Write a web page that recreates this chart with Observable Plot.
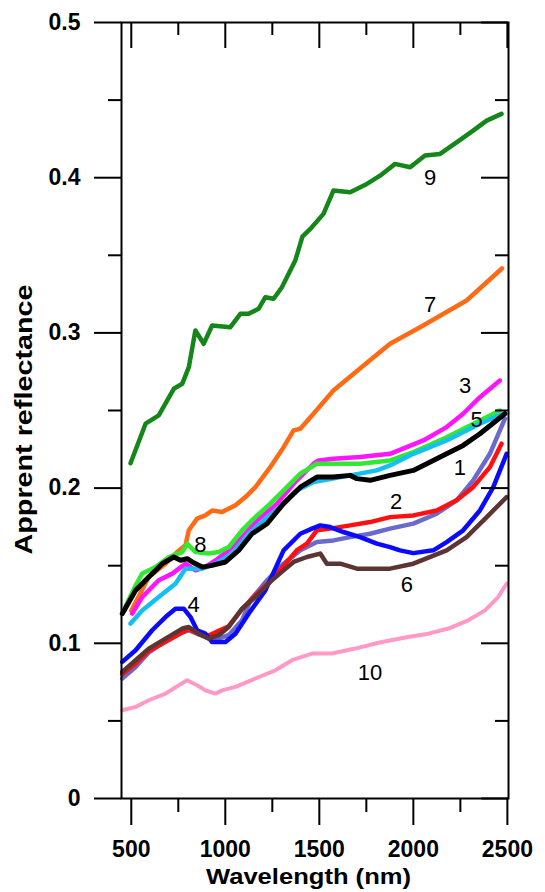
<!DOCTYPE html>
<html><head><meta charset="utf-8">
<script src="https://cdn.jsdelivr.net/npm/d3@7"></script>
<script src="https://cdn.jsdelivr.net/npm/@observablehq/plot@0.6"></script>
<style>body{margin:0;background:#fff}</style>
</head><body><div id="chart"></div>
<script>
// ---- data (wavelength nm, apparent reflectance) ----
const s9_nm = [496, 576, 646, 726, 771, 806, 841, 885, 930, 1027, 1080, 1124, 1177, 1213, 1257, 1301, 1372, 1410, 1452, 1522, 1575, 1664, 1753, 1823, 1903, 1983, 2062, 2142, 2230, 2318, 2390, 2469];
const s9_r  = [0.216, 0.2415, 0.2468, 0.264, 0.2672, 0.2779, 0.3016, 0.293, 0.3048, 0.3037, 0.3123, 0.3123, 0.3155, 0.323, 0.322, 0.3294, 0.3466, 0.362, 0.367, 0.3767, 0.3917, 0.3906, 0.396, 0.4013, 0.4089, 0.4067, 0.4143, 0.4153, 0.4228, 0.4303, 0.4368, 0.4411];

const s7_nm = [500, 593, 682, 744, 788, 806, 850, 894, 930, 983, 1054, 1107, 1160, 1239, 1310, 1363, 1399, 1469, 1575, 1700, 1876, 2036, 2283, 2471];
const s7_r  = [0.121, 0.1427, 0.1513, 0.1588, 0.1631, 0.1728, 0.1803, 0.1824, 0.1856, 0.1846, 0.1889, 0.1942, 0.2006, 0.2135, 0.2264, 0.2372, 0.2382, 0.2479, 0.2629, 0.2755, 0.293, 0.3037, 0.3209, 0.3415];

const s3_nm = [505, 558, 646, 718, 788, 841, 894, 947, 1018, 1089, 1169, 1275, 1363, 1469, 1496, 1575, 1717, 1876, 2053, 2177, 2265, 2354, 2460];
const s3_r  = [0.1191, 0.1298, 0.1406, 0.1449, 0.1513, 0.147, 0.1491, 0.1534, 0.1599, 0.1684, 0.1792, 0.19, 0.2028, 0.2157, 0.2178, 0.2189, 0.22, 0.2221, 0.2307, 0.2393, 0.2479, 0.2586, 0.2693];

const s8_nm = [470, 520, 558, 629, 700, 771, 797, 841, 912, 965, 1018, 1089, 1151, 1239, 1310, 1399, 1487, 1575, 1717, 1876, 2000, 2177, 2354, 2460];
const s8_r  = [0.124, 0.1365, 0.145, 0.1491, 0.1556, 0.1588, 0.1642, 0.1588, 0.1578, 0.1588, 0.162, 0.1728, 0.1803, 0.19, 0.1985, 0.2093, 0.2157, 0.2157, 0.2157, 0.2178, 0.2232, 0.2328, 0.2436, 0.25];

const s5_nm = [496, 558, 646, 735, 788, 877, 947, 1036, 1124, 1204, 1310, 1381, 1469, 1522, 1664, 1806, 1876, 2000, 2177, 2354, 2478];
const s5_r  = [0.1127, 0.1212, 0.1298, 0.1384, 0.1481, 0.1481, 0.1513, 0.1578, 0.1706, 0.1792, 0.19, 0.1985, 0.2039, 0.205, 0.2082, 0.2114, 0.2146, 0.2221, 0.2307, 0.2415, 0.2479];

const s1_nm = [452, 523, 593, 665, 726, 762, 797, 824, 877, 930, 1001, 1071, 1142, 1222, 1310, 1399, 1487, 1575, 1664, 1700, 1770, 1876, 2000, 2177, 2265, 2354, 2487];
const s1_r  = [0.1191, 0.1341, 0.1427, 0.1513, 0.1556, 0.1535, 0.1545, 0.1524, 0.1491, 0.1502, 0.1524, 0.1599, 0.1706, 0.1771, 0.19, 0.2006, 0.2071, 0.2071, 0.2082, 0.2061, 0.205, 0.2082, 0.2114, 0.2222, 0.2275, 0.235, 0.2479];

const s2_nm = [452, 523, 593, 682, 771, 806, 859, 912, 965, 1018, 1089, 1160, 1248, 1310, 1381, 1434, 1487, 1558, 1664, 1770, 1876, 2000, 2124, 2230, 2318, 2407, 2469];
const s2_r  = [0.080, 0.087, 0.095, 0.101, 0.107, 0.109, 0.106, 0.105, 0.108, 0.111, 0.122, 0.131, 0.141, 0.150, 0.160, 0.1642, 0.1728, 0.1739, 0.176, 0.1781, 0.1813, 0.1824, 0.1856, 0.1921, 0.2006, 0.2135, 0.2286];

const sP_nm = [452, 523, 593, 682, 771, 806, 859, 894, 965, 1018, 1089, 1133, 1222, 1310, 1399, 1487, 1575, 1664, 1770, 1876, 2000, 2124, 2230, 2318, 2407, 2487];
const sP_r  = [0.0773, 0.0847, 0.0942, 0.1013, 0.1071, 0.1084, 0.1058, 0.1041, 0.1032, 0.1052, 0.1148, 0.1277, 0.1406, 0.1513, 0.1599, 0.1652, 0.1663, 0.1684, 0.1706, 0.1739, 0.1771, 0.1835, 0.1921, 0.205, 0.2221, 0.2447];

const s4_nm = [452, 523, 611, 682, 735, 779, 815, 850, 894, 930, 1001, 1054, 1124, 1213, 1310, 1399, 1461, 1505, 1558, 1628, 1717, 1806, 1876, 1929, 2000, 2106, 2177, 2265, 2354, 2425, 2496];
const s4_r  = [0.088, 0.0955, 0.1084, 0.1169, 0.1223, 0.1223, 0.1169, 0.1084, 0.1062, 0.1008, 0.1008, 0.1062, 0.1191, 0.1341, 0.1599, 0.1706, 0.1739, 0.176, 0.1749, 0.1717, 0.1684, 0.1642, 0.162, 0.1599, 0.1581, 0.1599, 0.1652, 0.1728, 0.1856, 0.2006, 0.2221];

const s6_nm = [452, 523, 593, 682, 771, 806, 859, 912, 965, 1018, 1089, 1160, 1248, 1310, 1363, 1434, 1505, 1540, 1611, 1700, 1876, 2000, 2177, 2283, 2390, 2496];
const s6_r  = [0.0815, 0.0891, 0.0966, 0.103, 0.1095, 0.1105, 0.1062, 0.103, 0.1052, 0.1105, 0.1223, 0.1298, 0.1406, 0.147, 0.1524, 0.1556, 0.1578, 0.1513, 0.1513, 0.1481, 0.1481, 0.1513, 0.1599, 0.1684, 0.1813, 0.1942];

const s10_nm = [452, 523, 593, 682, 753, 797, 850, 894, 947, 983, 1054, 1160, 1266, 1355, 1461, 1567, 1690, 1832, 1973, 2080, 2186, 2292, 2381, 2451, 2496];
const s10_r  = [0.0569, 0.059, 0.0633, 0.0676, 0.073, 0.0762, 0.073, 0.0697, 0.0676, 0.0697, 0.0719, 0.0773, 0.0826, 0.0891, 0.0934, 0.0934, 0.0966, 0.1008, 0.1041, 0.1062, 0.1095, 0.1148, 0.1212, 0.1298, 0.1384];

// curve labels
const labelText = ["9", "7", "3", "5", "1", "2", "6", "8", "4", "10"];
const labelNm   = [2089, 2089, 2275, 2337, 2248, 1908, 1965, 868, 832, 1770];
const labelR    = [0.3996, 0.3180, 0.2661, 0.2436, 0.2133, 0.1908, 0.1373, 0.1631, 0.1245, 0.0807];

// axis ticks
const xMajor = [500, 1000, 1500, 2000, 2500];
const xMinor = [750, 1250, 1750, 2250];
const yMajor = [0, 0.1, 0.2, 0.3, 0.4, 0.5];
const yMinor = [0.05, 0.15, 0.25, 0.35, 0.45];

// drawing order and colours
const seriesList = [
  {nm: s10_nm, r: s10_r, color: "#ff99c6", w: 4},
  {nm: s9_nm,  r: s9_r,  color: "#14861a", w: 4.5},
  {nm: s7_nm,  r: s7_r,  color: "#ff6a14", w: 4.5},
  {nm: s3_nm,  r: s3_r,  color: "#ff14ff", w: 4.5},
  {nm: s8_nm,  r: s8_r,  color: "#33e833", w: 4.5},
  {nm: s5_nm,  r: s5_r,  color: "#14bff2", w: 4.5},
  {nm: sP_nm,  r: sP_r,  color: "#6a6acc", w: 4.5},
  {nm: s2_nm,  r: s2_r,  color: "#ff1010", w: 4.5},
  {nm: s4_nm,  r: s4_r,  color: "#0a0aff", w: 4.5},
  {nm: s6_nm,  r: s6_r,  color: "#5c3434", w: 4.5},
  {nm: s1_nm,  r: s1_r,  color: "#000000", w: 5}
];

const W = 545, H = 892, mL = 121, mR = 37, mT = 22, mB = 94;
const plotW = W - mL - mR, plotH = H - mT - mB;

const lineMarks = seriesList.map(s => {
  const rows = s.nm.map((n, i) => ({nm: n, r: s.r[i]}));
  return Plot.line(rows, {x: "nm", y: "r", stroke: s.color, strokeWidth: s.w, strokeLinejoin: "round", strokeLinecap: "round"});
});
const labels = labelText.map((t, i) => ({t, nm: labelNm[i], r: labelR[i]}));

const chart = Plot.plot({
  width: W, height: H,
  marginLeft: mL, marginRight: mR, marginTop: mT, marginBottom: mB,
  style: {fontFamily: "'Liberation Sans', Arial, sans-serif", background: "#fff", color: "#000"},
  x: {domain: [448, 2506]},
  y: {domain: [0, 0.5]},
  marks: [
    ...lineMarks,
    Plot.text(labels, {x: "nm", y: "r", text: "t", fontSize: 22, fill: "#000"}),
    Plot.frame({stroke: "#000", strokeWidth: 2}),
    Plot.axisX(xMajor, {anchor: "bottom", tickSize: 27, tickPadding: 15, strokeWidth: 2, fontSize: 23, fontWeight: "bold", label: null, tickFormat: d => String(d)}),
    Plot.axisX(xMinor, {anchor: "bottom", tickSize: 14, strokeWidth: 2, label: null, tickFormat: () => ""}),
    Plot.axisY(yMajor, {anchor: "left", tickSize: 27, tickPadding: 14, strokeWidth: 2, fontSize: 23, fontWeight: "bold", label: null, tickFormat: d => String(d)}),
    Plot.axisY(yMinor, {anchor: "left", tickSize: 13, strokeWidth: 2, label: null, tickFormat: () => ""}),
    Plot.tickX(xMajor, {x: d => d, insetBottom: plotH - 26, strokeWidth: 2}),
    Plot.tickX(xMinor, {x: d => d, insetBottom: plotH - 13, strokeWidth: 2}),
    Plot.tickY(yMajor, {y: d => d, insetLeft: plotW - 27, strokeWidth: 2}),
    Plot.tickY(yMinor, {y: d => d, insetLeft: plotW - 13, strokeWidth: 2}),
    Plot.text(["Wavelength (nm)"], {frameAnchor: "bottom", textAnchor: "start", dx: -109, dy: 85, fontSize: 22, fontWeight: "bold", fill: "#000"}),
    Plot.text(["Apprent reflectance"], {frameAnchor: "left", rotate: -90, textAnchor: "start", dx: -97, dy: 144, fontSize: 24, fontWeight: "bold", fill: "#000"})
  ]
});
document.getElementById("chart").appendChild(chart);
chart.querySelectorAll("text").forEach(t => {
  if (t.textContent === "Wavelength (nm)") { t.setAttribute("textLength", 205); t.setAttribute("lengthAdjust", "spacingAndGlyphs"); }
  if (t.textContent === "Apprent reflectance") { t.setAttribute("textLength", 270); t.setAttribute("lengthAdjust", "spacingAndGlyphs"); }
});
</script></body></html>
